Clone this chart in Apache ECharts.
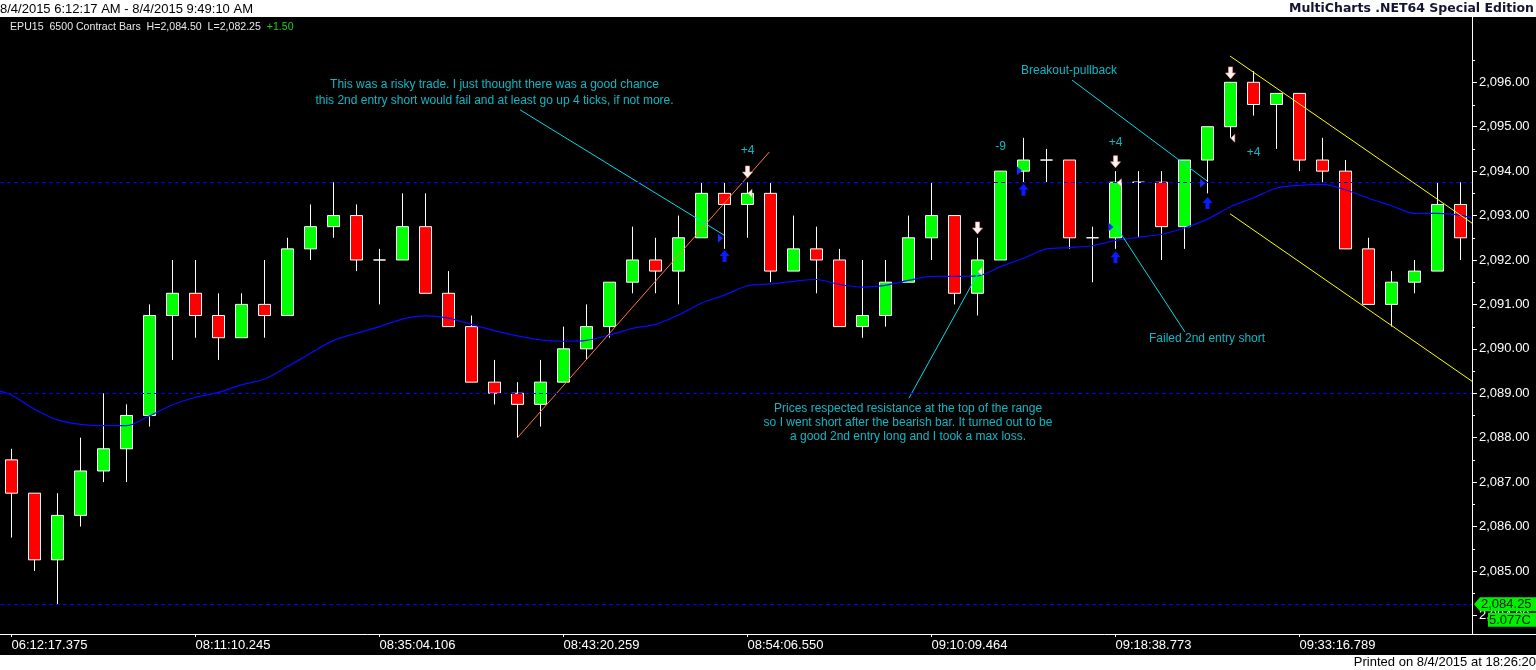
<!DOCTYPE html>
<html><head><meta charset="utf-8">
<script src="https://cdn.jsdelivr.net/npm/echarts@6/dist/echarts.min.js"></script>
<style>html,body{margin:0;padding:0;background:#000;}#c{width:1536px;height:670px;}</style>
</head><body><div id="c"></div>
<script>
const FONT = '"Liberation Sans", Arial, sans-serif';

const timeLabels = ['06:12:17.375','08:11:10.245','08:35:04.106','08:43:20.259','08:54:06.550','09:10:09.464','09:18:38.773','09:33:16.789'];

const opens  = [2087.5,2086.75,2085.25,2086.25,2087.25,2087.75,2088.5,2090.75,2091.25,2090.75,2090.25,2091.0,2090.75,2092.25,2092.75,2093.0,2092.0,2092.0,2092.75,2091.25,2090.5,2089.25,2089.0,2088.75,2089.25,2090.0,2090.5,2091.5,2092.0,2091.75,2092.5,2093.5,2093.25,2093.5,2091.75,2092.25,2092.0,2090.5,2090.75,2091.5,2092.5,2093.0,2091.25,2092.0,2094.0,2094.25,2094.25,2092.5,2092.5,2093.75,2093.75,2092.75,2094.25,2095.0,2096.0,2095.5,2095.75,2094.25,2094.0,2092.25,2091.0,2091.5,2091.75,2093.25];
const highs  = [2087.75,2086.75,2086.75,2088.0,2089.0,2088.75,2091.0,2092.0,2092.0,2091.25,2091.25,2092.0,2092.5,2093.25,2093.75,2093.25,2092.25,2093.5,2093.5,2091.75,2090.75,2089.75,2089.25,2089.75,2090.5,2091.0,2091.5,2092.75,2092.5,2093.0,2093.75,2093.75,2093.75,2093.75,2093.0,2092.75,2092.25,2092.0,2092.0,2093.0,2093.75,2093.0,2092.5,2094.0,2094.75,2094.5,2094.25,2092.75,2094.0,2094.0,2094.0,2094.25,2095.0,2096.0,2096.25,2095.75,2095.75,2094.75,2094.25,2092.5,2091.75,2092.0,2093.75,2093.75];
const lows   = [2085.75,2085.0,2084.25,2086.0,2087.0,2087.0,2088.25,2089.75,2090.25,2089.75,2090.25,2090.25,2090.75,2092.0,2092.5,2091.75,2091.0,2092.0,2091.25,2090.5,2089.25,2088.75,2088.0,2088.25,2089.25,2089.75,2090.25,2091.25,2091.25,2091.0,2092.5,2092.25,2092.5,2091.5,2091.75,2091.25,2090.5,2090.25,2090.5,2091.5,2092.0,2091.0,2090.75,2092.0,2093.75,2093.75,2092.25,2091.5,2092.25,2092.5,2092.0,2092.25,2093.5,2094.75,2095.25,2094.5,2094.0,2093.75,2092.25,2091.0,2090.5,2091.25,2091.75,2092.0];
const closes = [2086.75,2085.25,2086.25,2087.25,2087.75,2088.5,2090.75,2091.25,2090.75,2090.25,2091.0,2090.75,2092.25,2092.75,2093.0,2092.0,2092.0,2092.75,2091.25,2090.5,2089.25,2089.0,2088.75,2089.25,2090.0,2090.5,2091.5,2092.0,2091.75,2092.5,2093.5,2093.25,2093.5,2091.75,2092.25,2092.0,2090.5,2090.75,2091.5,2092.5,2093.0,2091.25,2092.0,2094.0,2094.25,2094.25,2092.5,2092.5,2093.75,2093.75,2092.75,2094.25,2095.0,2096.0,2095.5,2095.75,2094.25,2094.0,2092.25,2091.0,2091.5,2091.75,2093.25,2092.5];

const maValues = [2088.96,2088.64,2088.40,2088.30,2088.27,2088.27,2088.49,2088.74,2088.91,2089.02,2089.19,2089.32,2089.60,2089.90,2090.19,2090.35,2090.50,2090.67,2090.74,2090.69,2090.55,2090.41,2090.29,2090.20,2090.17,2090.19,2090.31,2090.46,2090.55,2090.76,2091.03,2091.21,2091.42,2091.46,2091.52,2091.56,2091.45,2091.39,2091.43,2091.54,2091.63,2091.63,2091.64,2091.85,2092.04,2092.25,2092.28,2092.32,2092.44,2092.51,2092.58,2092.72,2092.92,2093.20,2093.40,2093.62,2093.68,2093.70,2093.58,2093.39,2093.22,2093.05,2093.05,2093.01];
const maEdges = [2089.05, 2092.94];

const levelLines = [2093.75, 2089.00, 2084.25];
const priceTicks = [2084,2085,2086,2087,2088,2089,2090,2091,2092,2093,2094,2095,2096];
const priceMinorTicks = [2084.5,2085.5,2086.5,2087.5,2088.5,2089.5,2090.5,2091.5,2092.5,2093.5,2094.5,2095.5,2096.5];
const priceRange = [2083.58, 2097.47];

const orangeLine  = [[22, 2088.0], [32.95, 2094.43]];
const yellowUpper = [[52.98, 2096.59], [63.5, 2092.83]];
const yellowLower = [[52.98, 2093.04], [63.5, 2089.27]];
const pointerLines = [
  [[22.11, 2095.38], [30.98, 2092.56]],
  [[39.02, 2088.89], [42.11, 2091.78]],
  [[47.98, 2092.79], [51.02, 2090.38]],
  [[46.11, 2096.05], [51.98, 2093.78]]
];

const upArrows       = [[31, 2092.09], [44, 2093.58], [48, 2092.06], [52, 2093.28]];
const downArrows     = [[32, 2093.98], [42, 2092.72], [48, 2094.21], [53, 2096.21]];
const entryTriangles = [[30.82, 2092.49], [43.82, 2094.01], [47.80, 2092.74], [51.79, 2093.73]];
const exitTriangles  = [[32.11, 2093.50], [42.11, 2091.74], [48.17, 2093.74], [53.10, 2094.74]];

const tradeLabels   = ['+4', '-9', '+4', '+4'];
const tradeLabelPos = [[32, 2094.45], [43, 2094.54], [48, 2094.64], [54, 2094.41]];

const notes = [
  'This was a risky trade. I just thought there was a good chance\nthis 2nd entry short would fail and at least go up 4 ticks, if not more.',
  'Breakout-pullback',
  'Failed 2nd entry short',
  'Prices respected resistance at the top of the range\nso I went short after the bearish bar. It turned out to be\na good 2nd entry long and I took a max loss.'
];
const notePos = [[21.0, 2095.76], [45.98, 2096.26], [51.98, 2090.22], [38.98, 2088.33]];

const headerLeft = '8/4/2015 6:12:17 AM - 8/4/2015 9:49:10 AM';
const headerRight = 'MultiCharts .NET64 Special Edition';
const symbolInfo = 'EPU15  6500 Contract Bars  H=2,084.50  L=2,082.25  ';
const symbolChange = '+1.50';
const printedText = 'Printed on 8/4/2015 at 18:26:20';
const tagPrice = 2084.25;
const tagTexts = ['2,084.25', '5.077C'];

// ---------------------------------------------------------------
const categories = opens.map((_, i) => String(i + 1));
const candleData = opens.map((o, i) => [o, closes[i], lows[i], highs[i]]);
const maData = [[-0.5, maEdges[0]]].concat(maValues.map((v, i) => [i, v])).concat([[63.5, maEdges[1]]]);
const fmtPrice = v => Number(v).toLocaleString('en-US', {minimumFractionDigits: 2, maximumFractionDigits: 2});

const CYAN = '#10e4f4';
const UP_PATH = 'path://M5,0 L10,6 L7,6 L7,12 L3,12 L3,6 L0,6 Z';
const DOWN_PATH = 'path://M3,0 L7,0 L7,6 L10,6 L5,12 L0,6 L3,6 Z';
const RIGHT_TRI = 'path://M0,0 L6,5 L0,10 Z';
const LEFT_TRI = 'path://M6,0 L0,5 L6,10 Z';

function segLine(data, color) {
  return {
    type: 'line', xAxisIndex: 1, yAxisIndex: 0, data: data, symbol: 'none',
    lineStyle: {color: color, width: 1}, silent: true, z: 4
  };
}

const noteLineHeights = [16, 14, 14, 14];

const chart = echarts.init(document.getElementById('c'));
const option = {
  backgroundColor: '#000',
  animation: false,
  grid: {left: 0, right: 64, top: 17, bottom: 36},
  xAxis: [
    {
      type: 'category', data: categories, boundaryGap: true,
      axisLine: {show: true, onZero: false, lineStyle: {color: '#fff', width: 1}},
      axisTick: {show: true, interval: 7, alignWithLabel: true, length: 3, lineStyle: {color: '#fff'}},
      axisLabel: {
        show: true, interval: 7, color: '#fff', fontFamily: FONT, fontSize: 13,
        align: 'left', margin: 5,
        formatter: (v, i) => (i % 8 === 0 ? timeLabels[i / 8] : '')
      },
      splitLine: {show: false}
    },
    {type: 'value', min: -0.5, max: 63.5, show: false, axisLine: {onZero: false}}
  ],
  yAxis: [
    {
      type: 'value', position: 'right', min: priceRange[0], max: priceRange[1], scale: true,
      axisLine: {show: true, onZero: false, lineStyle: {color: '#fff', width: 1}},
      axisTick: {show: true, length: 5, customValues: priceTicks, lineStyle: {color: '#fff'}},
      axisLabel: {
        show: true, customValues: priceTicks, color: '#fff', fontFamily: FONT, fontSize: 13, margin: 7,
        formatter: v => fmtPrice(v)
      },
      splitLine: {show: false}
    }
  ],
  series: [
    {
      type: 'candlestick', xAxisIndex: 0, yAxisIndex: 0, data: candleData, barWidth: 12,
      itemStyle: {
        color: '#00ff00', color0: '#ff0000',
        borderColor: '#ffffff', borderColor0: '#ffffff', borderColorDoji: '#ffffff', borderWidth: 1
      },
      z: 2,
      markLine: {
        silent: true, symbol: ['none', 'none'], label: {show: false},
        lineStyle: {color: '#0000ff', type: [4, 3], width: 1},
        data: levelLines.map(v => ({yAxis: v}))
      }
    },
    {
      type: 'custom', xAxisIndex: 1, yAxisIndex: 0, clip: false, silent: true, z: 5,
      data: priceMinorTicks.map(v => [63.5, v]),
      renderItem: (params, api) => {
        const p = api.coord([api.value(0), api.value(1)]);
        const y = Math.round(p[1]) + 0.5;
        return {type: 'line', shape: {x1: p[0], y1: y, x2: p[0] + 3, y2: y}, style: {stroke: '#fff', lineWidth: 1}};
      }
    },
    {
      type: 'line', xAxisIndex: 1, yAxisIndex: 0, data: maData, symbol: 'none', smooth: 0.3,
      lineStyle: {color: '#0a0aff', width: 1.2}, silent: true, z: 3
    },
    segLine(orangeLine, '#ff7a3a'),
    segLine(yellowUpper, '#ffff00'),
    segLine(yellowLower, '#ffff00'),
    ...pointerLines.map(p => segLine(p, '#00dce8')),
    {
      type: 'scatter', xAxisIndex: 1, yAxisIndex: 0, data: upArrows, symbol: UP_PATH, symbolSize: [10, 12],
      itemStyle: {color: '#0a1cff', opacity: 1}, silent: true, z: 6
    },
    {
      type: 'scatter', xAxisIndex: 1, yAxisIndex: 0, data: downArrows, symbol: DOWN_PATH, symbolSize: [10, 12],
      itemStyle: {color: '#fff4f0', borderColor: '#f4a0a0', borderWidth: 0.6, opacity: 1}, silent: true, z: 6
    },
    {
      type: 'scatter', xAxisIndex: 1, yAxisIndex: 0, data: entryTriangles, symbol: RIGHT_TRI, symbolSize: [5, 9],
      itemStyle: {color: '#1a2cff', opacity: 1}, silent: true, z: 6
    },
    {
      type: 'scatter', xAxisIndex: 1, yAxisIndex: 0, data: exitTriangles, symbol: LEFT_TRI, symbolSize: [4, 8],
      itemStyle: {color: '#fff4f0', borderColor: '#f4a0a0', borderWidth: 0.5, opacity: 1}, silent: true, z: 6
    },
    {
      type: 'scatter', xAxisIndex: 1, yAxisIndex: 0, data: tradeLabelPos, symbol: 'circle', symbolSize: 1,
      itemStyle: {color: 'rgba(0,0,0,0)'}, silent: true, z: 7,
      label: {show: true, position: 'inside', color: CYAN, fontFamily: FONT, fontSize: 12,
        formatter: p => tradeLabels[p.dataIndex]}
    },
    {
      type: 'scatter', xAxisIndex: 1, yAxisIndex: 0, symbol: 'circle', symbolSize: 1,
      itemStyle: {color: 'rgba(0,0,0,0)'}, silent: true, z: 7,
      data: notePos.map((p, i) => ({value: p, label: {lineHeight: noteLineHeights[i]}})),
      label: {show: true, position: 'inside', color: CYAN, fontFamily: FONT, fontSize: 12, align: 'center',
        formatter: p => notes[p.dataIndex]}
    }
  ],
  graphic: [
    {type: 'rect', id: 'hdr', shape: {x: 0, y: 0, width: 1536, height: 17}, style: {fill: '#fff'}, z: 10},
    {type: 'text', x: 0, y: 9, z: 11, style: {text: headerLeft, fill: '#000', font: '13px ' + FONT, verticalAlign: 'middle'}},
    {type: 'text', x: 1534, y: 9, z: 11, style: {text: headerRight, fill: '#141432', font: 'bold 12.5px "DejaVu Sans", Verdana, sans-serif', align: 'right', verticalAlign: 'middle'}},
    {type: 'text', x: 10, y: 27, z: 11, style: {
      text: '{a|' + symbolInfo + '}{b|' + symbolChange + '}', verticalAlign: 'middle',
      rich: {a: {fill: '#e8e8e8', font: '10.6px ' + FONT}, b: {fill: '#22cc22', font: '10.6px ' + FONT}}
    }},
    {type: 'rect', shape: {x: 0, y: 655, width: 1536, height: 15}, style: {fill: '#fff'}, z: 10},
    {type: 'text', x: 1536, y: 662.5, z: 11, style: {text: printedText, fill: '#000', font: '13px ' + FONT, align: 'right', verticalAlign: 'middle'}},
    {type: 'line', shape: {x1: 1472, y1: 634.5, x2: 1536, y2: 634.5}, style: {stroke: '#fff', lineWidth: 1}, z: 10}
  ]
};
chart.setOption(option);

// price tag on the axis, placed through the axis scale
const ty = chart.convertToPixel({yAxisIndex: 0}, tagPrice);
const ax = chart.convertToPixel({xAxisIndex: 1}, 63.5);
chart.setOption({
  graphic: [
    {type: 'polygon', id: 'tag1', z: 12, shape: {points: [[ax + 2, ty], [ax + 8, ty - 7], [1536, ty - 7], [1536, ty + 7], [ax + 8, ty + 7]]}, style: {fill: '#00f000'}},
    {type: 'text', id: 'tag1t', z: 13, x: ax + 9, y: ty + 0.5, style: {text: tagTexts[0], fill: '#001a00', font: '13px ' + FONT, verticalAlign: 'middle'}},
    {type: 'rect', id: 'tag2', z: 12, shape: {x: ax + 16, y: ty + 8.5, width: 1536 - ax - 16, height: 14}, style: {fill: '#00f000'}},
    {type: 'text', id: 'tag2t', z: 13, x: ax + 17, y: ty + 16, style: {text: tagTexts[1], fill: '#001a00', font: '13px ' + FONT, verticalAlign: 'middle'}}
  ]
});
</script>
</body></html>
